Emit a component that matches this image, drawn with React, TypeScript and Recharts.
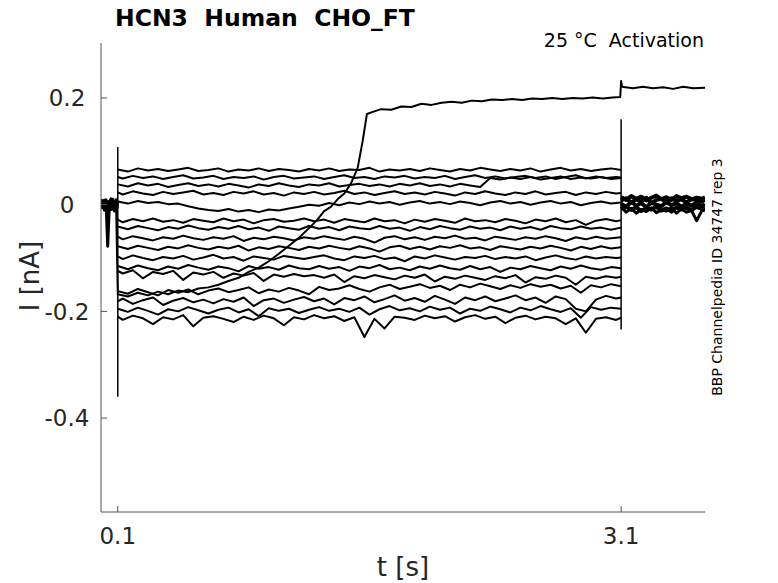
import React from 'react';
import { LineChart, Line, XAxis, YAxis } from 'recharts';

// time bases in s
const preTime = [0, 0.01, 0.02, 0.03, 0.04, 0.05, 0.06, 0.07, 0.08, 0.09, 0.099];
const stepTimeA = [
  0.10, 0.16, 0.22, 0.28, 0.34, 0.40, 0.46, 0.52, 0.58, 0.64,
  0.70, 0.76, 0.82, 0.88, 0.94, 1.00, 1.06, 1.12, 1.18, 1.24,
  1.30, 1.36, 1.42, 1.48, 1.54, 1.60, 1.66, 1.72, 1.78, 1.84,
  1.90, 1.96, 2.02, 2.08, 2.14, 2.20, 2.26, 2.32, 2.38, 2.44,
  2.50, 2.56, 2.62, 2.68, 2.74, 2.80, 2.86, 2.92, 2.98, 3.04,
  3.10,
];
const stepTimeB = [
  0.10, 0.13, 0.19, 0.25, 0.31, 0.37, 0.43, 0.49, 0.55, 0.61,
  0.67, 0.73, 0.79, 0.85, 0.91, 0.97, 1.03, 1.09, 1.15, 1.21,
  1.27, 1.33, 1.39, 1.45, 1.51, 1.57, 1.63, 1.69, 1.75, 1.81,
  1.87, 1.93, 1.99, 2.05, 2.11, 2.17, 2.23, 2.29, 2.35, 2.41,
  2.47, 2.53, 2.59, 2.65, 2.71, 2.77, 2.83, 2.89, 2.95, 3.01,
  3.07, 3.10,
];
const postTime = [3.10, 3.13, 3.16, 3.19, 3.22, 3.25, 3.28, 3.31, 3.34, 3.37, 3.40, 3.43, 3.46, 3.49, 3.52, 3.55, 3.58, 3.60];
const riseTime = [
  0, 0.03, 0.06, 0.09,
  0.10, 0.16, 0.22, 0.28, 0.34, 0.40, 0.46, 0.52, 0.58, 0.64,
  0.70, 0.76, 0.82, 0.88, 0.94, 1.00, 1.06, 1.12, 1.18, 1.24,
  1.29, 1.33, 1.37, 1.41, 1.45, 1.49, 1.53, 1.56, 1.585, 1.62,
  1.67, 1.73, 1.79, 1.85, 1.91, 1.97, 2.03, 2.09, 2.15, 2.21,
  2.27, 2.33, 2.39, 2.45, 2.51, 2.57, 2.63, 2.69, 2.75, 2.81,
  2.87, 2.93, 2.99, 3.05, 3.095,
  3.10, 3.105, 3.17, 3.23, 3.29, 3.35, 3.41, 3.47, 3.53, 3.60,
];

// current during the step, one array per sweep (nA)
const sweep01 = [
  0.066, 0.062, 0.068, 0.064, 0.067, 0.063, 0.066, 0.069, 0.063, 0.065,
  0.068, 0.062, 0.066, 0.064, 0.068, 0.063, 0.067, 0.065, 0.062, 0.067,
  0.064, 0.068, 0.063, 0.066, 0.065, 0.069, 0.062, 0.066, 0.064, 0.067,
  0.063, 0.068, 0.065, 0.062, 0.067, 0.064, 0.069, 0.066, 0.063, 0.067,
  0.064, 0.068, 0.062, 0.066, 0.069, 0.064, 0.067, 0.063, 0.066, 0.068,
  0.065,
];
const sweep02 = [
  0.052, 0.049, 0.054, 0.050, 0.053, 0.048, 0.052, 0.055, 0.049, 0.051,
  0.054, 0.048, 0.052, 0.050, 0.053, 0.047, 0.052, 0.054, 0.049, 0.051,
  0.053, 0.048, 0.052, 0.055, 0.050, 0.052, 0.048, 0.053, 0.051, 0.054,
  0.049, 0.052, 0.050, 0.054, 0.048, 0.052, 0.055, 0.050, 0.053, 0.049,
  0.052, 0.054, 0.050, 0.053, 0.048, 0.052, 0.055, 0.049, 0.053, 0.050,
  0.052, 0.051,
];
const sweep03 = [
  0.038, 0.034, 0.040, 0.036, 0.039, 0.033, 0.037, 0.040, 0.035, 0.038,
  0.034, 0.039, 0.036, 0.032, 0.038, 0.035, 0.040, 0.036, 0.033, 0.038,
  0.036, 0.040, 0.034, 0.037, 0.039, 0.035, 0.038, 0.034, 0.039, 0.036,
  0.040, 0.035, 0.038, 0.034, 0.039, 0.036, 0.033, 0.050, 0.047, 0.051,
  0.048, 0.052, 0.047, 0.050, 0.053, 0.048, 0.051, 0.049, 0.052, 0.048,
  0.050,
];
const sweep04 = [
  0.023, 0.019, 0.025, 0.021, 0.018, 0.024, 0.020, 0.023, 0.026, 0.019,
  0.022, 0.018, 0.024, 0.021, 0.025, 0.019, 0.022, 0.017, 0.023, 0.020,
  0.024, 0.019, 0.022, 0.026, 0.020, 0.023, 0.018, 0.022, 0.025, 0.020,
  0.023, 0.019, 0.024, 0.021, 0.017, 0.023, 0.020, 0.025, 0.021, 0.018,
  0.023, 0.020, 0.025, 0.019, 0.022, 0.024, 0.018, 0.023, 0.020, 0.024,
  0.021, 0.022,
];
const sweep05 = [
  0.006, 0.002, 0.007, 0.003, 0.005, 0.001, 0.002, -0.003, -0.007, -0.010,
  -0.012, -0.008, -0.013, -0.010, -0.014, -0.009, -0.011, -0.007, -0.004, 0.000,
  -0.002, 0.003, -0.001, 0.004, 0.001, 0.006, 0.002, 0.005, 0.000, 0.004,
  0.007, 0.002, 0.005, 0.001, 0.006, 0.003, -0.001, 0.004, 0.007, 0.002,
  0.005, 0.000, 0.004, 0.007, 0.002, 0.005, -0.001, 0.003, 0.006, 0.002,
  0.004,
];
const sweep06 = [
  -0.028, -0.033, -0.027, -0.031, -0.026, -0.032, -0.029, -0.034, -0.027, -0.030,
  -0.033, -0.026, -0.031, -0.028, -0.035, -0.029, -0.027, -0.032, -0.030, -0.026,
  -0.031, -0.028, -0.034, -0.027, -0.030, -0.033, -0.026, -0.031, -0.029, -0.035,
  -0.028, -0.032, -0.027, -0.030, -0.034, -0.026, -0.031, -0.029, -0.033, -0.027,
  -0.030, -0.035, -0.028, -0.031, -0.026, -0.033, -0.029, -0.038, -0.030, -0.027,
  -0.031, -0.029,
];
const sweep07 = [
  -0.041, -0.046, -0.040, -0.044, -0.048, -0.042, -0.045, -0.039, -0.044, -0.047,
  -0.042, -0.045, -0.040, -0.046, -0.043, -0.049, -0.041, -0.044, -0.047, -0.040,
  -0.045, -0.042, -0.048, -0.041, -0.044, -0.046, -0.040, -0.045, -0.043, -0.049,
  -0.042, -0.046, -0.040, -0.044, -0.047, -0.041, -0.045, -0.043, -0.048, -0.041,
  -0.045, -0.042, -0.047, -0.040, -0.044, -0.046, -0.041, -0.045, -0.043, -0.047,
  -0.043,
];
const sweep08 = [
  -0.060, -0.065, -0.059, -0.063, -0.067, -0.061, -0.064, -0.058, -0.063, -0.066,
  -0.061, -0.064, -0.059, -0.068, -0.062, -0.065, -0.060, -0.063, -0.067, -0.061,
  -0.064, -0.059, -0.063, -0.066, -0.060, -0.064, -0.071, -0.062, -0.059, -0.065,
  -0.061, -0.066, -0.060, -0.063, -0.058, -0.064, -0.062, -0.067, -0.060, -0.063,
  -0.066, -0.061, -0.064, -0.059, -0.063, -0.068, -0.061, -0.065, -0.060, -0.064,
  -0.062, -0.061,
];
const sweep09 = [
  -0.078, -0.083, -0.077, -0.081, -0.085, -0.079, -0.082, -0.076, -0.081, -0.084,
  -0.079, -0.082, -0.077, -0.086, -0.080, -0.083, -0.078, -0.081, -0.085, -0.079,
  -0.082, -0.077, -0.081, -0.084, -0.078, -0.082, -0.088, -0.080, -0.077, -0.083,
  -0.079, -0.084, -0.078, -0.081, -0.076, -0.082, -0.080, -0.085, -0.078, -0.081,
  -0.084, -0.079, -0.082, -0.077, -0.081, -0.086, -0.079, -0.083, -0.078, -0.082,
  -0.080,
];
const sweep10 = [
  -0.097, -0.102, -0.095, -0.100, -0.104, -0.098, -0.101, -0.096, -0.103, -0.099,
  -0.094, -0.101, -0.098, -0.105, -0.097, -0.100, -0.103, -0.096, -0.099, -0.102,
  -0.098, -0.095, -0.101, -0.104, -0.097, -0.100, -0.096, -0.102, -0.099, -0.106,
  -0.097, -0.101, -0.095, -0.099, -0.103, -0.098, -0.100, -0.096, -0.102, -0.098,
  -0.101, -0.097, -0.104, -0.099, -0.095, -0.100, -0.103, -0.097, -0.101, -0.098,
  -0.100, -0.099,
];
const sweep11 = [
  -0.115, -0.121, -0.114, -0.119, -0.123, -0.116, -0.120, -0.113, -0.118, -0.122,
  -0.116, -0.119, -0.125, -0.115, -0.120, -0.117, -0.122, -0.114, -0.119, -0.121,
  -0.115, -0.120, -0.117, -0.124, -0.116, -0.119, -0.113, -0.121, -0.118, -0.123,
  -0.116, -0.120, -0.114, -0.119, -0.122, -0.115, -0.121, -0.117, -0.126, -0.118,
  -0.121, -0.115, -0.119, -0.123, -0.116, -0.120, -0.114, -0.119, -0.122, -0.117,
  -0.119,
];
const sweep12 = [
  -0.124, -0.129, -0.123, -0.138, -0.126, -0.130, -0.124, -0.141, -0.127, -0.131,
  -0.126, -0.137, -0.129, -0.133, -0.128, -0.143, -0.131, -0.135, -0.130, -0.134,
  -0.132, -0.137, -0.131, -0.145, -0.134, -0.138, -0.132, -0.136, -0.140, -0.133,
  -0.137, -0.131, -0.144, -0.135, -0.139, -0.133, -0.137, -0.141, -0.134, -0.138,
  -0.132, -0.146, -0.136, -0.139, -0.133, -0.137, -0.150, -0.135, -0.139, -0.134,
  -0.137, -0.135,
];
const sweep13 = [
  -0.162, -0.167, -0.158, -0.164, -0.170, -0.160, -0.165, -0.159, -0.168, -0.161,
  -0.157, -0.164, -0.160, -0.155, -0.166, -0.159, -0.163, -0.156, -0.161, -0.168,
  -0.154, -0.160, -0.157, -0.151, -0.158, -0.163, -0.155, -0.150, -0.158, -0.154,
  -0.149, -0.156, -0.152, -0.160, -0.150, -0.155, -0.148, -0.153, -0.158, -0.151,
  -0.156, -0.149, -0.154, -0.150, -0.157, -0.152, -0.165, -0.151, -0.155, -0.149,
  -0.153,
];
const sweep14 = [
  -0.181, -0.176, -0.186, -0.179, -0.174, -0.188, -0.180, -0.175, -0.183, -0.178,
  -0.185, -0.177, -0.182, -0.174, -0.190, -0.179, -0.176, -0.184, -0.178, -0.173,
  -0.181, -0.176, -0.187, -0.175, -0.179, -0.172, -0.183, -0.177, -0.170, -0.180,
  -0.175, -0.182, -0.171, -0.178, -0.186, -0.174, -0.179, -0.172, -0.181, -0.176,
  -0.170, -0.179, -0.174, -0.184, -0.172, -0.177, -0.195, -0.200, -0.178, -0.171,
  -0.176, -0.174,
];
const sweep15 = [
  -0.195, -0.201, -0.193, -0.199, -0.206, -0.196, -0.200, -0.192, -0.198, -0.204,
  -0.197, -0.193, -0.202, -0.196, -0.209, -0.194, -0.199, -0.195, -0.203, -0.197,
  -0.192, -0.199, -0.195, -0.201, -0.193, -0.206, -0.196, -0.190, -0.198, -0.194,
  -0.200, -0.191, -0.197, -0.193, -0.204, -0.195, -0.199, -0.191, -0.196, -0.202,
  -0.193, -0.198, -0.190, -0.196, -0.201, -0.194, -0.212, -0.192, -0.197, -0.193,
  -0.195,
];
const sweep16 = [
  -0.210, -0.216, -0.208, -0.213, -0.224, -0.211, -0.215, -0.207, -0.228, -0.212,
  -0.209, -0.214, -0.220, -0.210, -0.216, -0.208, -0.213, -0.226, -0.211, -0.215,
  -0.207, -0.213, -0.209, -0.218, -0.211, -0.248, -0.214, -0.232, -0.210, -0.212,
  -0.216, -0.208, -0.213, -0.209, -0.219, -0.211, -0.207, -0.214, -0.210, -0.222,
  -0.212, -0.208, -0.215, -0.210, -0.213, -0.224, -0.213, -0.240, -0.214, -0.211,
  -0.216, -0.212,
];
// the sweep that activates, including its baseline and tail
const riseSweep = [
  0.002, -0.003, 0.004, -0.002,
  -0.168, -0.172, -0.165, -0.170, -0.163, -0.168, -0.161, -0.164, -0.157, -0.155,
  -0.150, -0.143, -0.137, -0.126, -0.118, -0.106, -0.092, -0.077, -0.062, -0.044,
  -0.028, -0.012, -0.004, 0.010, 0.021, 0.040, 0.069, 0.120, 0.170, 0.174,
  0.179, 0.178, 0.184, 0.183, 0.189, 0.187, 0.191, 0.193, 0.191, 0.195,
  0.194, 0.197, 0.196, 0.198, 0.196, 0.199, 0.198, 0.200, 0.198, 0.200,
  0.199, 0.201, 0.199, 0.201, 0.202,
  0.232, 0.221, 0.218, 0.221, 0.218, 0.220, 0.217, 0.221, 0.218, 0.219,
];

// baseline before the step and tail after it (nA)
const preA = [0.006, -0.004, 0.008, -0.002, 0.005, -0.006, 0.007, -0.003, 0.004, -0.005, 0.003];
const preB = [-0.008, 0.003, -0.010, 0.005, -0.078, 0.002, -0.009, 0.006, -0.007, 0.004, -0.006];
const preC = [0.010, 0.001, -0.005, 0.009, -0.012, 0.004, 0.011, -0.008, 0.002, 0.009, 0.000];
const preD = [-0.003, 0.007, 0.002, -0.011, 0.006, -0.001, -0.004, 0.010, -0.012, 0.001, 0.008];
const postA = [0.008, 0.012, 0.004, 0.010, 0.006, 0.013, 0.003, 0.009, 0.011, 0.005, 0.012, 0.007, 0.010, 0.004, 0.011, 0.008, 0.006, 0.009];
const postB = [0.002, -0.004, 0.005, -0.002, 0.003, -0.005, 0.004, 0.000, -0.003, 0.005, -0.001, 0.003, -0.004, 0.002, -0.002, 0.004, -0.003, 0.001];
const postC = [-0.008, -0.003, -0.010, -0.005, -0.012, -0.006, -0.009, -0.004, -0.011, -0.007, -0.013, -0.005, -0.009, -0.006, -0.010, -0.004, -0.008, -0.006];
const postD = [0.014, 0.009, 0.016, 0.011, 0.015, 0.008, 0.013, 0.017, 0.010, 0.014, 0.009, 0.016, 0.012, 0.015, 0.010, 0.013, 0.011, 0.014];
const postE = [-0.004, -0.014, -0.007, -0.016, -0.009, -0.013, -0.006, -0.015, -0.010, -0.012, -0.005, -0.016, -0.008, -0.014, -0.011, -0.030, -0.012, -0.010];

// capacitive transients at step on/off
const onsetSpike = [0.108, -0.36];
const offsetSpike = [0.16, -0.234];

const xTicks = [0.1, 3.1];
const yTicks = [-0.4, -0.2, 0, 0.2];

const toPoints = (times: number[], values: number[]) =>
  values.map((v, k) => ({ t: times[k], i: v }));

const traces = [
  { pts: toPoints(preTime, preA), w: 3 },
  { pts: toPoints(preTime, preB), w: 3 },
  { pts: toPoints(preTime, preC), w: 3 },
  { pts: toPoints(preTime, preD), w: 3 },
  { pts: toPoints(stepTimeA, sweep01), w: 2 },
  { pts: toPoints(stepTimeB, sweep02), w: 2 },
  { pts: toPoints(stepTimeA, sweep03), w: 2 },
  { pts: toPoints(stepTimeB, sweep04), w: 2 },
  { pts: toPoints(stepTimeA, sweep05), w: 2 },
  { pts: toPoints(stepTimeB, sweep06), w: 2 },
  { pts: toPoints(stepTimeA, sweep07), w: 2 },
  { pts: toPoints(stepTimeB, sweep08), w: 2 },
  { pts: toPoints(stepTimeA, sweep09), w: 2 },
  { pts: toPoints(stepTimeB, sweep10), w: 2 },
  { pts: toPoints(stepTimeA, sweep11), w: 2 },
  { pts: toPoints(stepTimeB, sweep12), w: 2 },
  { pts: toPoints(stepTimeA, sweep13), w: 2 },
  { pts: toPoints(stepTimeB, sweep14), w: 2 },
  { pts: toPoints(stepTimeA, sweep15), w: 2 },
  { pts: toPoints(stepTimeB, sweep16), w: 2 },
  { pts: toPoints(postTime, postA), w: 4 },
  { pts: toPoints(postTime, postB), w: 4 },
  { pts: toPoints(postTime, postC), w: 4 },
  { pts: toPoints(postTime, postD), w: 4 },
  { pts: toPoints(postTime, postE), w: 3 },
  { pts: toPoints(riseTime, riseSweep), w: 2 },
  { pts: toPoints([0.1, 0.1], onsetSpike), w: 1.5 },
  { pts: toPoints([3.1, 3.1], offsetSpike), w: 1.5 },
];

const font = 'DejaVu Sans';
const textGrey = '#262626';
const axisGrey = '#555';

const App: React.FC = () => {
  return (
    <div style={{ position: 'absolute', left: 0, top: 0, width: 778, height: 583, background: '#fff', fontFamily: font }}>
      <LineChart width={778} height={583} margin={{ top: 43, right: 73, left: 41, bottom: 41 }}>
        <XAxis
          type="number"
          dataKey="t"
          domain={[0, 3.6]}
          ticks={xTicks}
          allowDataOverflow
          height={30}
          tickSize={-6}
          tickMargin={22}
          stroke={axisGrey}
          tick={{ fontSize: 23, fill: textGrey, fontFamily: font }}
        />
        <YAxis
          type="number"
          domain={[-0.576, 0.303]}
          ticks={yTicks}
          allowDataOverflow
          width={60}
          tickSize={-6}
          tickMargin={40}
          stroke={axisGrey}
          tickFormatter={(v: number) => (v === 0 ? '0' : String(v))}
          tick={{ fontSize: 23, fill: textGrey, fontFamily: font, textAnchor: 'middle' }}
        />
        {traces.map((tr, k) => (
          <Line
            key={k}
            data={tr.pts}
            dataKey="i"
            type="linear"
            stroke="#000"
            strokeWidth={tr.w}
            strokeLinejoin="round"
            dot={false}
            activeDot={false}
            isAnimationActive={false}
          />
        ))}
      </LineChart>

      <div style={{ position: 'absolute', left: 115, top: 7, fontSize: 23.5, lineHeight: '23px', fontWeight: 'bold', color: '#000', whiteSpace: 'pre' }}>
        HCN3  Human  CHO_FT
      </div>
      <div style={{ position: 'absolute', right: 74, top: 31, fontSize: 19, lineHeight: '19px', color: '#000', whiteSpace: 'pre' }}>
        25 °C  Activation
      </div>
      <div style={{ position: 'absolute', left: 403, top: 567, transform: 'translate(-50%, -50%)', fontSize: 26, color: textGrey, whiteSpace: 'pre' }}>
        t [s]
      </div>
      <div style={{ position: 'absolute', left: 30, top: 276, transform: 'translate(-50%, -50%) rotate(-90deg)', fontSize: 26, color: textGrey, whiteSpace: 'pre' }}>
        I [nA]
      </div>
      <div style={{ position: 'absolute', left: 717, top: 277, transform: 'translate(-50%, -50%) rotate(-90deg)', fontSize: 14, color: '#000', whiteSpace: 'pre' }}>
        BBP Channelpedia ID 34747 rep 3
      </div>
    </div>
  );
};

export default App;
